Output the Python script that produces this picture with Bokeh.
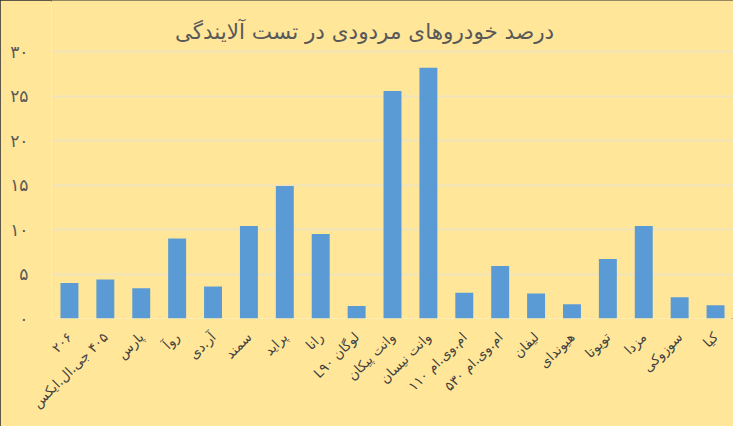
from bokeh.plotting import figure
from bokeh.models import ColumnDataSource, Label, CustomJSTickFormatter, FactorRange, FixedTicker
from bokeh.embed import file_html
from bokeh.resources import INLINE

title_text = "درصد خودروهای مردودی در تست آلایندگی"
# tick labels (written so that the mixed Persian/number labels display in the original order)
categories = ["۲۰۶", "\u200f۴۰۵ جی.ال.ایکس", "پارس", "روآ", "آر.دی", "سمند", "پراید", "رانا",
              "L۹۰ لوگان", "وانت پیکان", "وانت نیسان", "ام.وی.ام ۱۱۰", "ام.وی.ام ۵۳۰",
              "لیفان", "هیوندای", "تویوتا", "مزدا", "سوزوکی", "کیا"]
values = [4.0, 4.4, 3.4, 9.0, 3.6, 10.4, 14.9, 9.5, 1.4, 25.6, 28.2, 2.9, 5.9,
          2.8, 1.6, 6.7, 10.4, 2.4, 1.5]
y_ticks = [0, 5, 10, 15, 20, 25, 30]

BG = "#FFE699"
BAR = "#5B9BD5"

src = ColumnDataSource(dict(cat=categories, val=values))

# frame extends to the top of the figure so the title can sit inside it
p = figure(width=733, height=426, x_range=FactorRange(*categories, range_padding=0),
           y_range=(0, 35.78), output_backend="svg", toolbar_location=None,
           min_border_left=51, min_border_right=0, min_border_top=0, min_border_bottom=108)
p.background_fill_color = BG
p.border_fill_color = BG
p.outline_line_color = None
p.styles = {"outline": "2px solid #2a2a2a", "outline-offset": "-2px"}

p.vbar(x="cat", top="val", width=0.5, source=src, fill_color=BAR, line_color=None)

p.xgrid.grid_line_color = None
p.ygrid.grid_line_color = "#F0E3BC"
p.ygrid.grid_line_width = 1.8
p.yaxis.ticker = FixedTicker(ticks=y_ticks)
p.yaxis.formatter = CustomJSTickFormatter(code="""
const d = "۰۱۲۳۴۵۶۷۸۹";
return String(Math.round(tick)).replace(/[0-9]/g, c => d[+c]);
""")
for ax in (p.xaxis[0], p.yaxis[0]):
    ax.axis_line_color = None
    ax.major_tick_line_color = None
    ax.minor_tick_line_color = None
p.yaxis.major_label_text_font = "DejaVu Sans"
p.yaxis.major_label_text_font_size = "17px"
p.yaxis.major_label_text_color = "#595959"
p.yaxis.major_label_standoff = 17

p.xaxis.major_label_orientation = 0.785
p.xaxis.major_label_text_font = "DejaVu Sans"
p.xaxis.major_label_text_font_size = "13.5px"
p.xaxis.major_label_text_color = "#404040"
p.xaxis.major_label_standoff = 10

p.add_layout(Label(x=8.72, y=32.32, text=title_text, text_align="center", text_baseline="middle",
                   text_font="DejaVu Sans", text_font_size="21.5px", text_color="#595959"))

open("out.html", "w").write(file_html(p, INLINE))
